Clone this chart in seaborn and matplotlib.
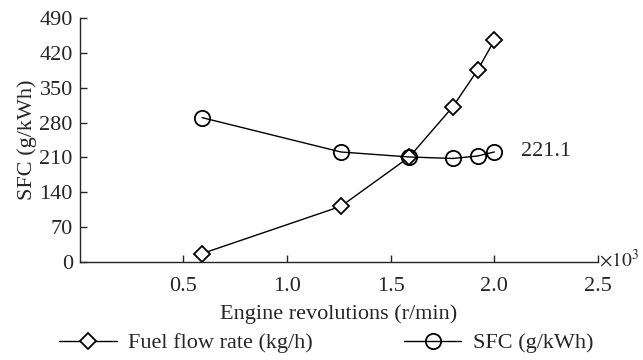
import matplotlib
matplotlib.use("Agg")
import matplotlib.pyplot as plt
import seaborn as sns
import pandas as pd

sns.set_style("ticks")
plt.rcParams['font.family'] = ['Liberation Serif', 'DejaVu Serif']
plt.rcParams['mathtext.fontset'] = 'stix'

# engine revolutions (x10^3 r/min)
revs = [0.59, 1.26, 1.59, 1.80, 1.92, 2.0]
fuel_flow = [17, 112, 211, 312, 386, 445]
sfc = [290, 221, 211, 208, 213, 221.1]

df = pd.DataFrame({"rev": revs, "fuel": fuel_flow, "sfc": sfc})

fs = 16
fig = plt.figure(figsize=(6.43, 3.6), dpi=100)
ax = fig.add_axes([0.124, 0.272, 0.806, 0.678])

sns.lineplot(data=df, x="rev", y="fuel", ax=ax, color="black", lw=1,
             marker="D", markersize=8, markerfacecolor="white",
             markeredgecolor="black", markeredgewidth=1.3,
             label="Fuel flow rate (kg/h)")
sns.lineplot(data=df, x="rev", y="sfc", ax=ax, color="black", lw=1,
             marker="o", markersize=11, markerfacecolor="none",
             markeredgecolor="black", markeredgewidth=1.3,
             label="SFC (g/kWh)")

ax.annotate("221.1", xy=(revs[-1], sfc[-1]), xytext=(2.13, sfc[-1]),
            fontsize=fs, va="center", ha="left")

ax.set_xlim(0, 2.5)
ax.set_ylim(0, 490)
ax.set_xticks([0.5, 1.0, 1.5, 2.0, 2.5])
ax.set_xticklabels(["0.5", "1.0", "1.5", "2.0", "2.5"])
ax.set_yticks(range(0, 491, 70))
ax.tick_params(direction="in", labelsize=fs, length=5, width=1)
ax.tick_params(axis="x", pad=11)
ax.tick_params(axis="y", pad=5)
for s in ["left", "bottom"]:
    ax.spines[s].set_linewidth(1)
sns.despine(ax=ax)

ax.set_xlabel("Engine revolutions (r/min)", fontsize=fs, labelpad=6)
ax.set_ylabel("SFC (g/kWh)", fontsize=fs, labelpad=2)
ax.text(1.002, 0.01, r"$\times10^3$", transform=ax.transAxes, fontsize=14,
        ha="left", va="center")

ax.legend(loc="center", bbox_to_anchor=(326 / 643, 1 - 343 / 360),
          bbox_transform=fig.transFigure, ncol=2,
          frameon=False, fontsize=fs, handlelength=2.6, columnspacing=4.1,
          handletextpad=0.5, borderpad=0, borderaxespad=0)

fig.savefig("out.png", dpi=100)
